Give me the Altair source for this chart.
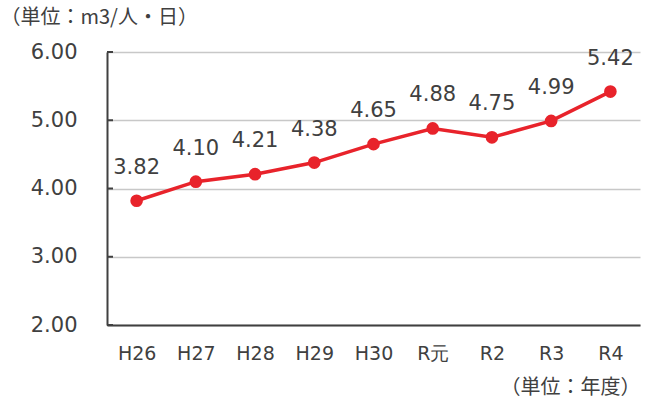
import altair as alt
import pandas as pd

# Fiscal years and daily per-capita volume (m3/person/day)
years = ["H26", "H27", "H28", "H29", "H30", "R元", "R2", "R3", "R4"]
values = [3.82, 4.10, 4.21, 4.38, 4.65, 4.88, 4.75, 4.99, 5.42]
y_ticks = [2.0, 3.0, 4.0, 5.0, 6.0]

df = pd.DataFrame({"year": years, "value": values})
df["label"] = [f"{v:.2f}" for v in values]
ticks_df = pd.DataFrame({"t": y_ticks})

NUM_FONT = "DejaVu Sans"
JP_FONT = "Noto Sans CJK JP"
TEXT = "#404040"
RED = "#E8232B"

x_enc = alt.X(
    "year:N",
    sort=years,
    scale=alt.Scale(type="point", padding=0.5),
    axis=alt.Axis(
        title="（単位：年度）",
        titleFont=JP_FONT,
        titleFontSize=20,
        titleFontWeight="normal",
        titleColor=TEXT,
        titleAngle=0,
        titleAlign="right",
        titleBaseline="middle",
        titleX=533,
        titleY=62,
        labelAngle=0,
        labelFont=NUM_FONT,
        labelFontSize=19,
        labelColor=TEXT,
        labelPadding=19,
        ticks=False,
        domainColor="#404040",
        domainWidth=2,
        grid=False,
    ),
)

y_scale = alt.Scale(domain=[2, 6], nice=False, zero=False)

line = alt.Chart(df).mark_line(color=RED, strokeWidth=3.5).encode(
    x=x_enc,
    y=alt.Y(
        "value:Q",
        scale=y_scale,
        axis=alt.Axis(
            values=y_ticks,
            format=".2f",
            title="（単位：m3/人・日）",
            titleFont=JP_FONT,
            titleFontSize=20,
            titleFontWeight="normal",
            titleColor=TEXT,
            titleAngle=0,
            titleAlign="left",
            titleBaseline="middle",
            titleX=-107,
            titleY=-35,
            labelFont=NUM_FONT,
            labelFontSize=21,
            labelColor=TEXT,
            labelPadding=30,
            ticks=False,
            domainColor="#404040",
            domainWidth=2,
            gridColor="#c8c8c8",
            gridWidth=1.5,
        ),
    ),
)

points = alt.Chart(df).mark_circle(color=RED, size=160, opacity=1).encode(
    x=alt.X("year:N", sort=years),
    y=alt.Y("value:Q", scale=y_scale),
)

labels = alt.Chart(df).mark_text(
    font=NUM_FONT, fontSize=21, color=TEXT, dy=-33, baseline="middle"
).encode(
    x=alt.X("year:N", sort=years),
    y=alt.Y("value:Q", scale=y_scale),
    text="label:N",
)

# short inward tick marks on the value axis
inner_ticks = alt.Chart(ticks_df).mark_rule(color="#404040", strokeWidth=2).encode(
    y=alt.Y("t:Q", scale=y_scale),
    x=alt.value(0),
    x2=alt.value(6),
)

chart = (
    alt.layer(line, inner_ticks, points, labels)
    .properties(
        width=533,
        height=273,
        autosize=alt.AutoSizeParams(type="none"),
        padding={"left": 107, "top": 52, "right": 9, "bottom": 78},
        background="white",
    )
    .configure_view(stroke=None)
)

chart.save("out.html", embed_options={"renderer": "svg", "actions": False})
